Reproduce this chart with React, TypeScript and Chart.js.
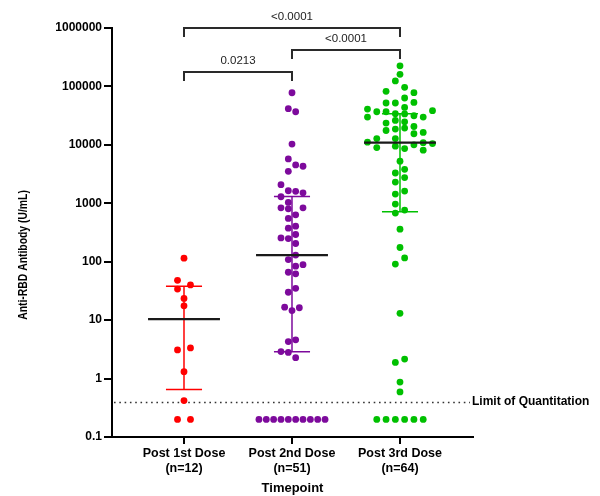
import { useEffect, useRef } from "react";
import { Chart, registerables } from "chart.js";

Chart.register(...registerables);

// ---------- data ----------
const groupNames = ["Post 1st Dose", "Post 2nd Dose", "Post 3rd Dose"];
const groupCounts = ["(n=12)", "(n=51)", "(n=64)"];
const groupCenters = [1, 2, 3];

const post1Values = [115, 48, 40, 34, 23.5, 17.6, 3.34, 3.09, 1.31, 0.42, 0.2, 0.2];
const post1Slots = [0, -1, 1, -1, 0, 0, 1, -1, 0, 0, -1, 1];

const post2Values = [
  78000, 41600, 36900, 10300, 5740, 4530, 4300, 3530, 2080, 1640, 1600, 1510,
  1294, 1036, 837, 805, 837, 550, 635, 375, 406, 255, 249, 292, 205, 130, 109,
  84, 89, 66, 62, 30, 35, 16.7, 14.6, 16.3, 4.3, 4.6, 2.9, 2.8, 2.28,
  0.2, 0.2, 0.2, 0.2, 0.2, 0.2, 0.2, 0.2, 0.2, 0.2,
];
const post2Slots = [
  0, -0.5, 0.5, 0, -0.5, 0.5, 1.5, -0.5, -1.5, -0.5, 0.5, 1.5,
  -1.5, -0.5, -1.5, -0.5, 1.5, -0.5, 0.5, -0.5, 0.5, -1.5, -0.5, 0.5, 0.5, 0.5, -0.5,
  0.5, 1.5, -0.5, 0.5, -0.5, 0.5, -1, 0, 1, -0.5, 0.5, -1.5, -0.5, 0.5,
  -4.5, -3.5, -2.5, -1.5, -0.5, 0.5, 1.5, 2.5, 3.5, 4.5,
];

const post3Values = [
  225000, 161000, 124000, 82400, 96600, 78200, 63400, 52000, 52000, 53300, 43800,
  41000, 29900, 36900, 36900, 34100, 33800, 31500, 29900, 38400,
  23600, 26200, 24800, 17600, 18600, 19400, 20600, 16300, 15500,
  12800, 12800, 11100, 9000, 9500, 8640, 10000, 10900, 8110, 10500,
  5250, 3300, 3820, 2310, 2750, 1440, 1620, 968, 679, 764,
  360, 175, 116, 91, 13.1, 1.89, 2.16, 0.87, 0.59,
  0.2, 0.2, 0.2, 0.2, 0.2, 0.2,
];
const post3Slots = [
  0, 0, -0.5, -1.5, 0.5, 1.5, 0.5, -1.5, -0.5, 1.5, 0.5,
  -3.5, -3.5, -2.5, -1.5, -0.5, 0.5, 1.5, 2.5, 3.5,
  -1.5, -0.5, 0.5, -1.5, -0.5, 0.5, 1.5, 2.5, 1.5,
  -2.5, -0.5, -3.5, -2.5, -0.5, 0.5, 1.5, 2.5, 2.5, 3.5,
  0, -0.5, 0.5, -0.5, 0.5, -0.5, 0.5, -0.5, -0.5, 0.5,
  0, 0, 0.5, -0.5, 0, -0.5, 0.5, 0, 0,
  -2.5, -1.5, -0.5, 0.5, 1.5, 2.5,
];

const medians = [10.4, 130, 10900];
const upperQuartiles = [38, 1310, 34100];
const lowerQuartiles = [0.65, 2.88, 714];

const yTicks = [0.1, 1, 10, 100, 1000, 10000, 100000, 1000000];
const yTickLabels = ["0.1", "1", "10", "100", "1000", "10000", "100000", "1000000"];

const limitOfQuantitation = 0.4;

const bracketFrom = [1, 2, 1];
const bracketTo = [3, 3, 2];
const bracketLevels = [1010000, 417000, 177000];
const bracketLabels = ["<0.0001", "<0.0001", "0.0213"];

// ---------- styles ----------
const FONT = "Arial, 'Liberation Sans', sans-serif";
const groupColors = ["#FF0000", "#7D0A9C", "#00C000"];
const slotWidths = [0.06, 0.068, 0.086];
const medianHalf = 0.333;
const capHalf = 0.167;

const annotPlugin = {
  id: "annot",
  beforeDatasetsDraw(chart: any) {
    const { ctx, chartArea, scales } = chart;
    const y = scales.y;
    const py = Math.round(y.getPixelForValue(limitOfQuantitation)) + 0.5;
    ctx.save();
    ctx.strokeStyle = "#333";
    ctx.lineWidth = 1.6;
    ctx.setLineDash([1.6, 3.7]);
    ctx.beginPath();
    ctx.moveTo(chartArea.left + 2, py);
    ctx.lineTo(chartArea.right - 3, py);
    ctx.stroke();
    ctx.restore();
  },
  afterDraw(chart: any) {
    const { ctx, chartArea, scales } = chart;
    const x = scales.x;
    const y = scales.y;
    ctx.save();
    // LOQ label
    const py = y.getPixelForValue(limitOfQuantitation);
    ctx.fillStyle = "#000";
    ctx.font = `bold 12px ${FONT}`;
    ctx.textAlign = "left";
    ctx.textBaseline = "middle";
    ctx.fillText("Limit of Quantitation", chartArea.right - 1, py);

    // brackets
    ctx.strokeStyle = "#2a2a2a";
    ctx.lineWidth = 2;
    ctx.setLineDash([]);
    for (let i = 0; i < bracketLabels.length; i++) {
      const x1 = x.getPixelForValue(bracketFrom[i]);
      const x2 = x.getPixelForValue(bracketTo[i]);
      const by = Math.round(y.getPixelForValue(bracketLevels[i]));
      ctx.beginPath();
      ctx.moveTo(x1, by + 9);
      ctx.lineTo(x1, by);
      ctx.lineTo(x2, by);
      ctx.lineTo(x2, by + 9);
      ctx.stroke();
      ctx.fillStyle = "#222";
      ctx.font = `11.5px ${FONT}`;
      ctx.textAlign = "center";
      ctx.textBaseline = "middle";
      ctx.fillText(bracketLabels[i], (x1 + x2) / 2, by - 11.5);
    }

    // y-axis title
    ctx.translate(24, 255);
    ctx.rotate(-Math.PI / 2);
    ctx.scale(0.83, 1);
    ctx.fillStyle = "#000";
    ctx.font = `bold 12.5px ${FONT}`;
    ctx.textAlign = "center";
    ctx.textBaseline = "middle";
    ctx.fillText("Anti-RBD Antibody (U/mL)", 0, 0);
    ctx.restore();
  },
};

export default function App() {
  const ref = useRef<HTMLCanvasElement | null>(null);

  useEffect(() => {
    document.body.style.margin = "0";
    const canvas = ref.current;
    if (!canvas) return;

    const groupValues = [post1Values, post2Values, post3Values];
    const groupSlots = [post1Slots, post2Slots, post3Slots];
    const datasets: any[] = [];

    groupCenters.forEach((c, g) => {
      const col = groupColors[g];
      datasets.push({
        label: groupNames[g],
        data: groupValues[g].map((v, i) => ({ x: c + groupSlots[g][i] * slotWidths[g], y: v })),
        backgroundColor: col,
        borderWidth: 0,
        pointRadius: 3.4,
        pointHoverRadius: 3.4,
        showLine: false,
        order: 1,
      });
      datasets.push({
        label: "median",
        data: [
          { x: c - medianHalf, y: medians[g] },
          { x: c + medianHalf, y: medians[g] },
        ],
        borderColor: "#1a1a1a",
        borderWidth: 2.2,
        pointRadius: 0,
        showLine: true,
        order: 0,
      });
      const errStyle = { borderColor: col, borderWidth: 1.5, pointRadius: 0, showLine: true, order: 2 };
      datasets.push({
        label: "iqr",
        data: [
          { x: c, y: lowerQuartiles[g] },
          { x: c, y: upperQuartiles[g] },
        ],
        ...errStyle,
      });
      datasets.push({
        label: "capHi",
        data: [
          { x: c - capHalf, y: upperQuartiles[g] },
          { x: c + capHalf, y: upperQuartiles[g] },
        ],
        ...errStyle,
      });
      datasets.push({
        label: "capLo",
        data: [
          { x: c - capHalf, y: lowerQuartiles[g] },
          { x: c + capHalf, y: lowerQuartiles[g] },
        ],
        ...errStyle,
      });
    });

    const chart = new Chart(canvas, {
      type: "scatter",
      data: { datasets },
      options: {
        animation: false,
        responsive: false,
        devicePixelRatio: 1,
        layout: { padding: { top: 28, right: 127, bottom: 0, left: 0 } },
        plugins: {
          legend: { display: false },
          tooltip: { enabled: false },
          title: { display: false },
        },
        scales: {
          x: {
            type: "linear",
            min: 1 / 3,
            max: 3.676,
            afterBuildTicks: (s: any) => {
              s.ticks = groupCenters.map((v) => ({ value: v }));
            },
            afterFit: (s: any) => {
              s.height = 59;
            },
            ticks: {
              autoSkip: false,
              maxRotation: 0,
              padding: 2,
              color: "#000",
              font: { family: FONT, size: 12.5, weight: "bold", lineHeight: 1.2 },
              callback: (_v: any, i: number) => [groupNames[i], groupCounts[i]],
            },
            grid: {
              drawOnChartArea: false,
              drawTicks: true,
              tickLength: 7,
              color: "#000",
              lineWidth: 2,
            },
            border: { display: true, color: "#000", width: 2 },
            title: {
              display: true,
              text: "Timepoint",
              color: "#000",
              font: { family: FONT, size: 13, weight: "bold", lineHeight: 1.2 },
              padding: { top: 0, bottom: 0 },
            },
          },
          y: {
            type: "logarithmic",
            min: 0.1,
            max: 1000000,
            afterBuildTicks: (s: any) => {
              s.ticks = yTicks.map((v) => ({ value: v, major: true }));
            },
            afterFit: (s: any) => {
              s.width = 112;
            },
            ticks: {
              autoSkip: false,
              padding: 2,
              color: "#000",
              font: { family: FONT, size: 12, weight: "bold" },
              callback: (_v: any, i: number) => yTickLabels[i],
            },
            grid: {
              drawOnChartArea: false,
              drawTicks: true,
              tickLength: 8,
              color: "#000",
              lineWidth: 2,
            },
            border: { display: true, color: "#000", width: 2 },
          },
        },
      } as any,
      plugins: [annotPlugin],
    });

    return () => {
      chart.destroy();
    };
  }, []);

  return (
    <div style={{ width: 600, height: 496 }}>
      <canvas ref={ref} width={600} height={496} style={{ display: "block", width: 600, height: 496 }} />
    </div>
  );
}
